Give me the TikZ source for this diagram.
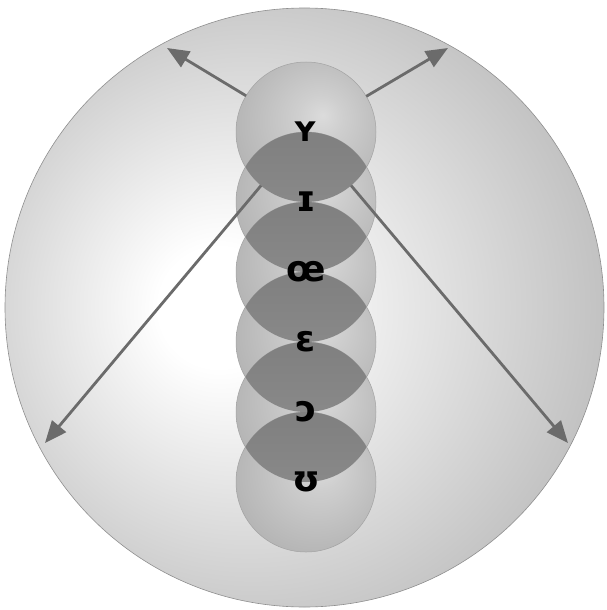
\documentclass[tikz,border=0pt]{standalone}
\usepackage{fontspec}
\newfontfamily\ipa{DejaVu Sans}
\usetikzlibrary{arrows.meta}
\pgfdeclareradialshading{bigsph}{\pgfpoint{-8bp}{0bp}}{color(0bp)=(white); color(5bp)=(white); color(50bp)=(black!46)}
\pgfdeclareradialshading{smallsph}{\pgfpoint{6bp}{6bp}}{color(0bp)=(black!14); color(8bp)=(black!19); color(44bp)=(black!36); color(58bp)=(black!44)}
\tikzset{
  ball/.style={circle, minimum size=140pt, inner sep=0pt, outer sep=0pt, shading=smallsph, draw=black!36, line width=0.5pt},
  lens/.style={top color=black!50, bottom color=black!43},
  ray/.style={draw=black!58, line width=2.8pt, -{Triangle[length=22pt,width=18pt]}},
  lowl/.style={font=\ipa\bfseries\fontsize{36}{36}\selectfont, inner sep=0pt}
}
\begin{document}
\begin{tikzpicture}[x=1pt,y=-1pt]
\useasboundingbox (0,0) rectangle (606,610);
\node[circle, minimum size=599pt, inner sep=0pt, outer sep=0pt, shading=bigsph, draw=black!44, line width=0.6pt] (sphere) at (304.5,307.5) {};
\foreach \i/\y in {1/132,2/202,3/272,4/342,5/412,6/482}{
  \node[ball] (c\i) at (306,\y) {};
}
\foreach \a/\b in {1/2,2/3,3/4,4/5,5/6}{
  \begin{scope}
    \clip (c\a.center) circle[radius=70pt];
    \shade[lens] (c\b.center) circle[radius=70pt];
  \end{scope}
}
\coordinate (tl) at (167,48);
\coordinate (tr) at (448,48);
\coordinate (bl) at (45,443);
\coordinate (br) at (568,443);
\draw[ray] (c1) -- (tl);
\draw[ray] (c1) -- (tr);
\draw[ray] (c1) -- (bl);
\draw[ray] (c1) -- (br);
\node[lowl] (t1) at (c1) {ʏ};
\node[lowl] (t2) at (c2) {ɪ};
\node[lowl] (t3) at (c3) {œ};
\node[lowl] (t4) at (c4) {ɛ};
\node[lowl] (t5) at (c5) {ɔ};
\node[lowl] (t6) at (c6) {ʊ};
\end{tikzpicture}
\end{document}
